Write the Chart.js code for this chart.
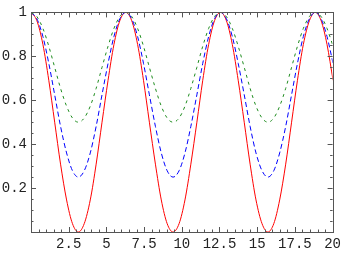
<!DOCTYPE html>
<html>
<head>
<meta charset="utf-8">
<script src="https://cdn.jsdelivr.net/npm/chart.js@4/dist/chart.umd.min.js"></script>
<style>
html,body{margin:0;padding:0;background:#fff;}
#wrap{width:345px;height:254px;position:relative;}
</style>
</head>
<body>
<div id="wrap"><canvas id="c" width="345" height="254"></canvas></div>
<script>
// sample positions (x)
const xValues = [0,0.39,0.79,1.18,1.57,1.96,2.36,2.75,3.14,3.53,3.93,4.32,4.71,5.11,5.50,5.89,
  6.28,6.68,7.07,7.46,7.85,8.25,8.64,9.03,9.42,9.82,10.21,10.60,11.00,11.39,11.78,12.17,
  12.57,12.96,13.35,13.74,14.14,14.53,14.92,15.32,15.71,16.10,16.49,16.89,17.28,17.67,18.06,18.46,
  18.85,19.24,19.63,20.03];
// solid red series
const redValues = [1,0.962,0.854,0.691,0.5,0.309,0.146,0.038,0,0.038,0.146,0.309,0.5,0.691,0.854,0.962,
  1,0.962,0.854,0.691,0.5,0.309,0.146,0.038,0,0.038,0.146,0.309,0.5,0.691,0.854,0.962,
  1,0.962,0.854,0.691,0.5,0.309,0.146,0.038,0,0.038,0.146,0.309,0.5,0.691,0.854,0.962,
  1,0.962,0.854,0.691];
// dashed blue series
const blueValues = [1,0.971,0.890,0.768,0.625,0.481,0.360,0.279,0.25,0.279,0.360,0.481,0.625,0.768,0.890,0.971,
  1,0.971,0.890,0.768,0.625,0.481,0.360,0.279,0.25,0.279,0.360,0.481,0.625,0.768,0.890,0.971,
  1,0.971,0.890,0.768,0.625,0.481,0.360,0.279,0.25,0.279,0.360,0.481,0.625,0.768,0.890,0.971,
  1,0.971,0.890,0.768];
// dotted-dashed green series
const greenValues = [1,0.981,0.927,0.846,0.75,0.654,0.573,0.519,0.5,0.519,0.573,0.654,0.75,0.846,0.927,0.981,
  1,0.981,0.927,0.846,0.75,0.654,0.573,0.519,0.5,0.519,0.573,0.654,0.75,0.846,0.927,0.981,
  1,0.981,0.927,0.846,0.75,0.654,0.573,0.519,0.5,0.519,0.573,0.654,0.75,0.846,0.927,0.981,
  1,0.981,0.927,0.846];
// tick labels
const xTickLabels = ['2.5','5','7.5','10','12.5','15','17.5','20'];
const yTickLabels = ['0.2','0.4','0.6','0.8','1'];

const pts = arr => arr.map((v,i)=>({x:xValues[i], y:v}));

const frameTicks = {
  id:'frameTicks',
  afterDatasetsDraw(chart){
    const {ctx, chartArea:a, scales:{x,y}} = chart;
    ctx.save();
    ctx.strokeStyle = '#555';
    ctx.lineWidth = 1;
    ctx.beginPath();
    // x ticks (major every 2.5, minor every 0.5)
    for (let i=1;i<40;i++){
      const v = i*0.5;
      const px = Math.round(x.getPixelForValue(v))+0.5;
      const len = (i%5===0)?5:2.5;
      ctx.moveTo(px,a.bottom); ctx.lineTo(px,a.bottom-len);
      ctx.moveTo(px,a.top); ctx.lineTo(px,a.top+len);
    }
    // y ticks (major every 0.2, minor every 0.05)
    for (let i=1;i<20;i++){
      const v = i*0.05;
      const py = Math.round(y.getPixelForValue(v))+0.5;
      const len = (i%4===0)?5:2.5;
      ctx.moveTo(a.left,py); ctx.lineTo(a.left+len,py);
      ctx.moveTo(a.right,py); ctx.lineTo(a.right-len,py);
    }
    ctx.stroke();
    ctx.strokeRect(Math.round(a.left)+0.5, Math.round(a.top)+0.5, Math.round(a.right-a.left), Math.round(a.bottom-a.top));
    ctx.restore();
  }
};

const font = {family:'"Liberation Mono", "DejaVu Sans Mono", monospace', size:14};

new Chart(document.getElementById('c'), {
  type:'line',
  data:{
    datasets:[
      {data:pts(greenValues), borderColor:'rgb(30,140,30)', borderWidth:1, borderDash:[3,4], pointRadius:0, cubicInterpolationMode:'monotone', fill:false},
      {data:pts(blueValues), borderColor:'#0000ff', borderWidth:1, borderDash:[5,3], pointRadius:0, cubicInterpolationMode:'monotone', fill:false},
      {data:pts(redValues), borderColor:'#ff0000', borderWidth:1, pointRadius:0, cubicInterpolationMode:'monotone', fill:false}
    ]
  },
  options:{
    responsive:false,
    animation:false,
    events:[],
    layout:{padding:{top:8,right:9,left:0,bottom:0}},
    plugins:{legend:{display:false}, tooltip:{enabled:false}},
    scales:{
      x:{
        type:'linear', min:0, max:20,
        grid:{display:false, drawTicks:false},
        border:{display:false},
        afterBuildTicks(s){ s.ticks = xTickLabels.map(t=>({value:parseFloat(t)})); },
        afterFit(s){ s.height = 22; },
        ticks:{font, color:'#222', padding:4, maxRotation:0, autoSkip:false,
          callback:(v,i)=>xTickLabels[i]}
      },
      y:{
        type:'linear', min:0, max:1,
        grid:{display:false, drawTicks:false},
        border:{display:false},
        afterBuildTicks(s){ s.ticks = yTickLabels.map(t=>({value:parseFloat(t)})); },
        afterFit(s){ s.width = 31; },
        ticks:{font, color:'#222', padding:4, autoSkip:false,
          callback:(v,i)=>yTickLabels[i]}
      }
    }
  },
  plugins:[frameTicks]
});
</script>
</body>
</html>
